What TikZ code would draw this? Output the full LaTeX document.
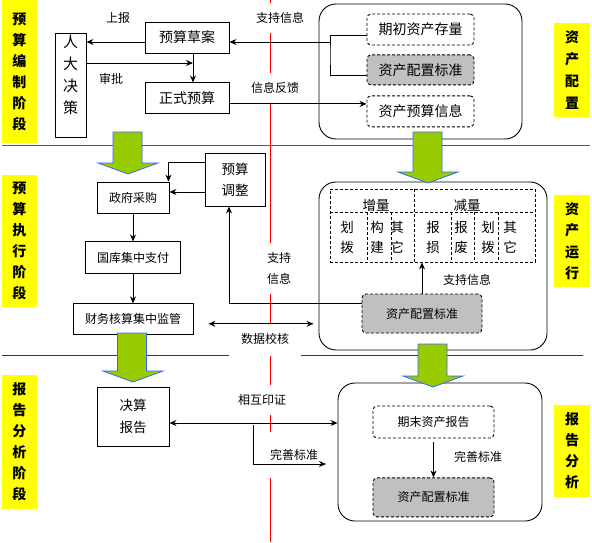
\documentclass[tikz,border=0pt]{standalone}
\usepackage{fontspec}
\setmainfont{Noto Sans CJK SC}
\usepackage{tikz}
\usetikzlibrary{positioning, arrows.meta}
\definecolor{sidefill}{HTML}{FFFF00}
\definecolor{arrowfill}{HTML}{99CC00}
\definecolor{arrowborder}{HTML}{3366FF}
\definecolor{stdgray}{HTML}{C0C0C0}
\definecolor{midline}{HTML}{FF0000}
\definecolor{sepone}{HTML}{993366}
\definecolor{septwo}{HTML}{800080}

\begin{document}
\begin{tikzpicture}[
    x=1pt, y=-1pt,
    >={Stealth[length=7pt, width=6pt]},
    line width=0.9pt,
    box/.style={draw, inner sep=0pt, align=center, font=\fontsize{12}{21}\selectfont},
    bigbox/.style={box, font=\fontsize{14}{21}\selectfont},
    dbox/.style={draw, dash pattern=on 3pt off 2pt, rounded corners=4pt, inner sep=0pt,
                 font=\fontsize{12}{15}\selectfont},
    gbox/.style={dbox, fill=stdgray},
    panel/.style={draw, rounded corners=17pt, inner sep=0pt},
    stage/.style={fill=sidefill, inner sep=0pt, align=center,
                  font=\fontsize{14}{21}\selectfont\bfseries},
    cell/.style={inner sep=0pt, align=center, font=\fontsize{13.5}{20}\selectfont},
    lbl/.style={fill=white, inner xsep=3pt, inner ysep=9pt, align=center,
                font=\fontsize{12}{21}\selectfont},
    plain/.style={inner sep=1pt, font=\fontsize{12}{15}\selectfont},
    garrow/.style={fill=arrowfill, draw=arrowborder, line width=0.8pt},
]
\useasboundingbox (0,0) rectangle (592,542);

% guide lines
\draw[draw=midline, line width=1pt] (270,0) -- (270,542);
\draw[draw=sepone, line width=1pt] (2,145) -- (590,145);
\draw[draw=septwo, line width=1pt] (2,355) -- (583,355);

% stage labels
\node[stage, minimum width=35pt, minimum height=143pt] (st1) at (19.5,71.5) {预\\算\\编\\制\\阶\\段};
\node[stage, minimum width=35pt, minimum height=132pt] (st2) at (19.5,241) {预\\算\\执\\行\\阶\\段};
\node[stage, minimum width=35pt, minimum height=134pt] (st3) at (19.5,442) {报\\告\\分\\析\\阶\\段};
\node[stage, minimum width=36pt, minimum height=94pt, font=\fontsize{14}{22}\selectfont\bfseries] (rt1) at (572,70) {资\\产\\配\\置};
\node[stage, minimum width=36pt, minimum height=92pt, font=\fontsize{14}{21.5}\selectfont\bfseries] (rt2) at (572,241) {资\\产\\运\\行};
\node[stage, minimum width=36pt, minimum height=92pt, font=\fontsize{14}{21}\selectfont\bfseries] (rt3) at (572,451) {报\\告\\分\\析};

% labels on the middle line
\node[lbl] (lzc) at (280,18) {支持信息};
\node[lbl] (lfk) at (275,88) {信息反馈};
\node[lbl] (lzx) at (279,268.5) {支持\\信息};
\node[lbl, minimum width=72pt, minimum height=33pt] (lsj) at (265,339) {数据校核};
\node[lbl] (lhx) at (262,400) {相互印证};
\node[lbl, minimum height=46pt] (lws) at (294,455) {完善标准};

% budget drafting
\node[box, minimum width=31pt, minimum height=104pt, font=\fontsize{15}{22}\selectfont] (rdjc) at (70.5,85) {人\\大\\决\\策\\\mbox{}};
\node[bigbox, minimum width=84pt, minimum height=31pt] (ysca) at (187,37.5) {预算草案};
\node[bigbox, minimum width=84pt, minimum height=31pt, below=29pt of ysca] (zsys) {正式预算};
\node[plain] (lsb) at (118,18) {上报};
\node[plain] (lsp) at (111,79) {审批};

\node[panel, minimum width=203pt, minimum height=135pt] (panel1) at (420.5,71.5) {};
\node[dbox, minimum width=107pt, minimum height=31pt, font=\fontsize{14}{15}\selectfont] (qczc) at (420.5,29.5) {期初资产存量};
\node[gbox, minimum width=107pt, minimum height=30pt, font=\fontsize{14}{15}\selectfont, below=9pt of qczc] (pzbz1) {资产配置标准};
\node[dbox, minimum width=107pt, minimum height=31pt, font=\fontsize{14}{15}\selectfont, below=10pt of pzbz1] (zcys) {资产预算信息};

\coordinate (brk) at (330,55);
\draw ([yshift=-5.5pt]qczc.west) -| (brk) |- ([yshift=-6pt]pzbz1.west);
\coordinate (sup) at ([yshift=-4.5pt]ysca.east);
\draw[->] (sup -| brk) -- (sup);
\draw[->] ([yshift=-4.5pt]ysca.west) coordinate (rep) -- (rep -| rdjc.east);
\coordinate (jn) at ([xshift=6pt]ysca.south);
\draw[->] (jn) -- (jn |- zsys.north);
\draw[->] ([yshift=22pt]rdjc.east) coordinate (apr) -- (apr -| jn);
\draw[->] ([yshift=-5.5pt]zsys.east) coordinate (fb) -- (fb -| zcys.west);

% budget execution
\node[box, minimum width=72pt, minimum height=31pt] (zfcg) at (133,197.5) {政府采购};
\node[box, minimum width=60pt, minimum height=53pt, font=\fontsize{13.5}{21}\selectfont] (ystz) at (235,179.5) {预算\\调整};
\node[box, minimum width=95pt, minimum height=32pt, below=28pt of zfcg] (gkzf) {国库集中支付};
\node[box, minimum width=120pt, minimum height=31pt, below=29pt of gkzf] (cwhs) {财务核算集中监管};

\node[panel, minimum width=228pt, minimum height=168pt] (panel2) at (433,266) {};
\node[draw, dash pattern=on 3pt off 2pt, minimum width=205pt, minimum height=73pt] (tbl) at (432.5,225.5) {};
\draw[dash pattern=on 3pt off 2pt] (330,212) -- (535,212);
\draw[dash pattern=on 3pt off 2pt] (414,189) -- (414,262);
\foreach \x in {367,391,451,474,498}
  \draw[dash pattern=on 3pt off 2pt] (\x,212) -- (\x,262);
\node[cell] (inc) at (376,205) {增量};
\node[cell] (dec) at (467,205) {减量};
\foreach \x/\a/\b in {347/划/拨, 377/构/建, 397/其/它, 433/报/损, 461/报/废, 488/划/拨, 510/其/它}
  \node[cell] at (\x,237) {\a\\\b};
\node[gbox, minimum width=120pt, minimum height=39pt] (pzbz2) at (422,313.5) {资产配置标准};
\node[plain] (lzc2) at (467,280) {支持信息};

\draw[->] ([yshift=17.5pt]ystz.west) -| ([xshift=-1pt]zfcg.north east);
\draw[->] ([yshift=-12.5pt]ystz.west) coordinate (adj) -- (adj -| zfcg.east);
\draw[->] (zfcg) -- (gkzf);
\draw[->] (gkzf) -- (cwhs);
\draw[->] ([yshift=10.5pt]pzbz2.west) -| ([xshift=-6pt]ystz.south);
\draw[->] (pzbz2.north) -- (pzbz2.north |- tbl.south);
\draw[<->, shorten >=5pt] ([xshift=15pt, yshift=-4.5pt]cwhs.east) coordinate (chk) -- (chk -| panel2.west);

% report analysis
\node[box, minimum width=72pt, minimum height=59pt, font=\fontsize{13.5}{22}\selectfont] (jsbg) at (133,416.5) {决算\\报告};
\node[panel, minimum width=204pt, minimum height=138pt] (panel3) at (440,452) {};
\node[dbox, minimum width=121pt, minimum height=32pt] (qmzc) at (433.5,422) {期末资产报告};
\node[gbox, minimum width=121pt, minimum height=39pt, below=39pt of qmzc] (pzbz3) {资产配置标准};
\node[plain] (lws2) at (478,457) {完善标准};

\draw[<->] ([yshift=-6.5pt]jsbg.east) coordinate (mut) -- (mut -| panel3.west);
\coordinate (ws) at (253,425);
\coordinate (we) at (326,464);
\draw[->] (ws) |- (we);
\draw[->, shorten <=4pt] (qmzc) -- (pzbz3);

% stage arrows
\foreach \cx/\hx/\ta/\tb in {127.5/128/132/163, 132/133/333/371, 427.5/428/132/172, 432.5/433/344/376}
  \draw[garrow] (\cx-14.5,\ta) -- (\cx-14.5,\tb) -- (\hx-30,\tb) -- (\hx,\tb+11)
    -- (\hx+30,\tb) -- (\cx+14.5,\tb) -- (\cx+14.5,\ta) -- cycle;

\end{tikzpicture}
\end{document}
